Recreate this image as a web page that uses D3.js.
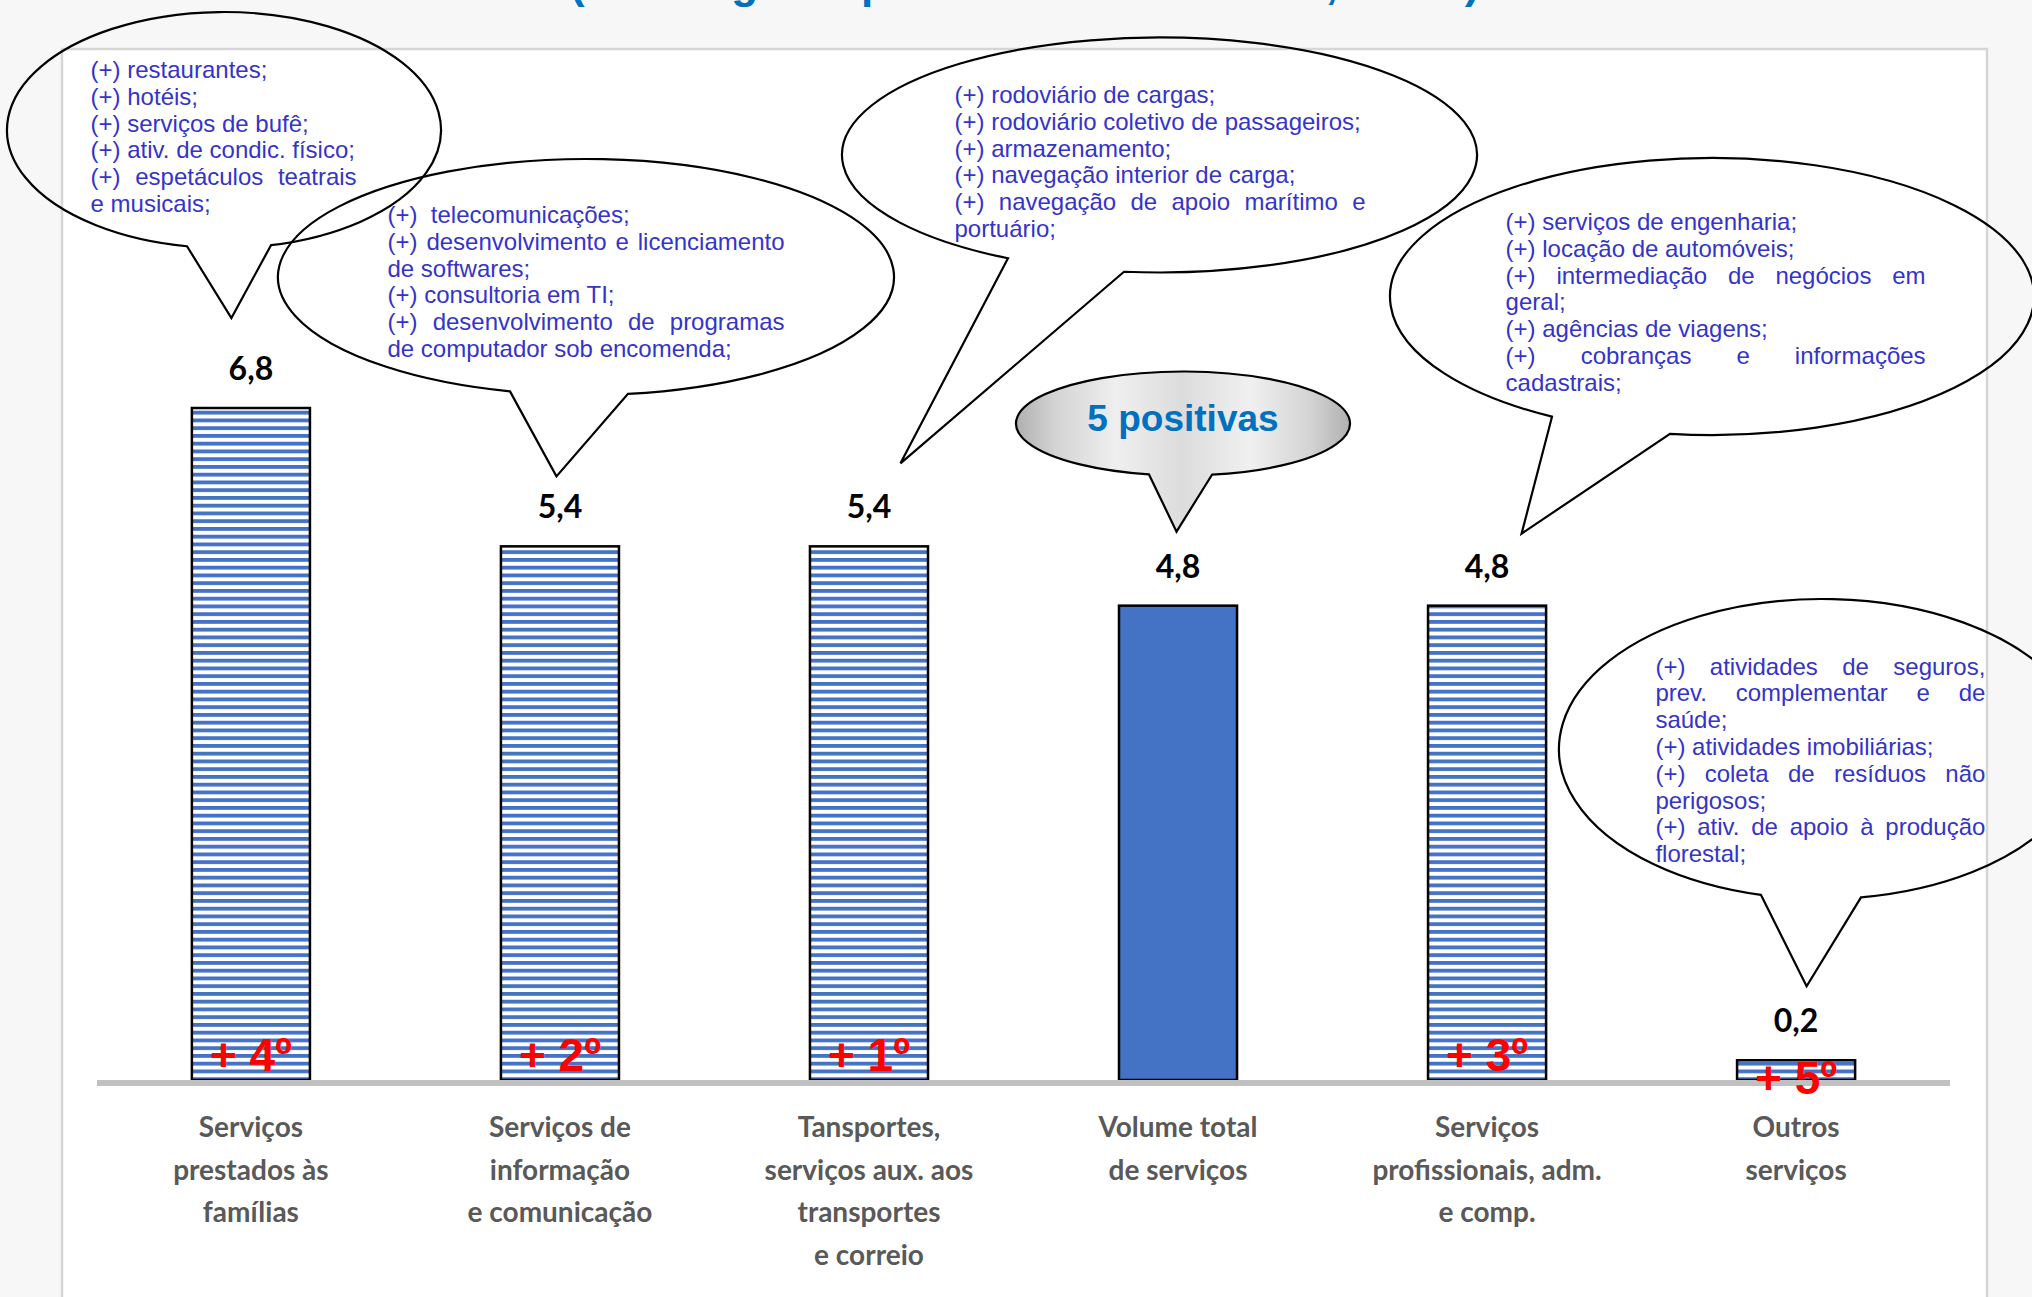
<!DOCTYPE html>
<html>
<head>
<meta charset="utf-8">
<script src="https://cdn.jsdelivr.net/npm/d3@7"></script>
<style>
  html, body { margin: 0; padding: 0; background: #f7f7f7; }
  svg { display: block; }
  .note { font-family: "Liberation Sans", Arial, sans-serif; font-size: 24px; fill: #3434c8; white-space: pre; }
  .cat { font-family: Lato, "Open Sans", sans-serif; font-weight: 700; font-size: 28px; fill: #595959; }
  .val { font-family: Lato, "Open Sans", sans-serif; font-weight: 700; font-size: 32px; fill: #000; }
  .rank { font-family: "Liberation Sans", Arial, sans-serif; font-weight: 700; font-size: 46px; fill: #ff0000; }
</style>
</head>
<body>
<svg id="chart" width="2032" height="1297"></svg>
<script>
// data
var categories = ["familias", "informacao", "transportes", "total", "profissionais", "outros"];
var categoryLines = [
  ["Serviços", "prestados às", "famílias"],
  ["Serviços de", "informação", "e comunicação"],
  ["Tansportes,", "serviços aux. aos", "transportes", "e correio"],
  ["Volume total", "de serviços"],
  ["Serviços", "profissionais, adm.", "e comp."],
  ["Outros", "serviços"]
];
var values = [6.8, 5.4, 5.4, 4.8, 4.8, 0.2];
var ranks = ["+ 4º", "+ 2º", "+ 1º", "", "+ 3º", "+ 5º"];
var isTotal = [false, false, false, true, false, false];

var titleText = "(Ranking dos pontos de alta no mês, em %)";
var totalNote = "5 positivas";

// callout texts: paragraphs -> lines (all but the last line of a paragraph are justified)
var notesFamilias = [
  ["(+) restaurantes;"],
  ["(+) hotéis;"],
  ["(+) serviços de bufê;"],
  ["(+) ativ. de condic. físico;"],
  ["(+)  espetáculos  teatrais", "e musicais;"]
];
var notesInformacao = [
  ["(+)  telecomunicações;"],
  ["(+)  desenvolvimento e licenciamento", "de softwares;"],
  ["(+) consultoria em TI;"],
  ["(+)  desenvolvimento  de  programas", "de computador sob encomenda;"]
];
var notesTransportes = [
  ["(+) rodoviário de cargas;"],
  ["(+) rodoviário coletivo de passageiros;"],
  ["(+) armazenamento;"],
  ["(+) navegação interior de carga;"],
  ["(+)  navegação  de  apoio  marítimo  e", "portuário;"]
];
var notesProfissionais = [
  ["(+) serviços de engenharia;"],
  ["(+) locação de automóveis;"],
  ["(+) intermediação de negócios em", "geral;"],
  ["(+) agências de viagens;"],
  ["(+) cobranças e informações", "cadastrais;"]
];
var notesOutros = [
  ["(+) atividades de seguros,", "prev. complementar e de", "saúde;"],
  ["(+) atividades imobiliárias;"],
  ["(+) coleta de resíduos não", "perigosos;"],
  ["(+) ativ. de apoio à produção", "florestal;"]
];

// callout shapes (layout only); the tail tip hangs off the bar it describes
var callouts = [
  {i: 0, cx: 224,    cy: 130,   rx: 217,   ry: 118,   bl: 187,  br: 271,  dx: -19.5, gap: 90, tx: 90.6,   tw: 266, ty: 78,    notes: notesFamilias},
  {i: 1, cx: 586,    cy: 277,   rx: 308,   ry: 118,   bl: 510,  br: 628,  dx: -3.5,  gap: 70, tx: 387.5,  tw: 397, ty: 223,   notes: notesInformacao},
  {i: 2, cx: 1159.5, cy: 155,   rx: 317.5, ry: 117.5, bl: 1008, br: 1124, dx: 31.5,  gap: 83, tx: 954.5,  tw: 411, ty: 103,   notes: notesTransportes},
  {i: 3, cx: 1183,   cy: 423.5, rx: 167,   ry: 52,    bl: 1149, br: 1212, dx: -1.5,  gap: 74, silver: true},
  {i: 4, cx: 1712,   cy: 296.5, rx: 322,   ry: 138.5, bl: 1552, br: 1670, dx: 34.5,  gap: 72, tx: 1505.6, tw: 420, ty: 230,   notes: notesProfissionais},
  {i: 5, cx: 1822,   cy: 749,   rx: 263,   ry: 150,   bl: 1761, br: 1861, dx: 10.5,  gap: 74, tx: 1655.4, tw: 330, ty: 674.6, notes: notesOutros}
];

var W = 2032, H = 1297;
var svg = d3.select("#chart");
var defs = svg.append("defs");

var pat = defs.append("pattern")
    .attr("id", "stripes")
    .attr("patternUnits", "userSpaceOnUse")
    .attr("width", 12)
    .attr("height", 7.75);
pat.append("rect").attr("width", 12).attr("height", 7.75).attr("fill", "#fff");
pat.append("rect").attr("width", 12).attr("height", 3.8).attr("fill", "#4472c4");

var grad = defs.append("linearGradient")
    .attr("id", "silver")
    .attr("x1", 0).attr("x2", 1).attr("y1", 0).attr("y2", 0);
[[0, "#b0b0b0"], [0.12, "#d4d4d4"], [0.3, "#efefef"], [0.5, "#dcdcdc"],
 [0.7, "#f0f0f0"], [0.88, "#d4d4d4"], [1, "#b0b0b0"]].forEach(function(s) {
  grad.append("stop").attr("offset", s[0]).attr("stop-color", s[1]);
});

svg.append("rect").attr("width", W).attr("height", H).attr("fill", "#f7f7f7");

svg.append("text")
    .attr("x", 570)
    .attr("y", -2)
    .attr("font-family", "'Liberation Sans', Arial, sans-serif")
    .attr("font-weight", 700)
    .attr("font-size", 44)
    .attr("fill", "#0070c0")
    .text(titleText);

// white panel
svg.append("rect")
    .attr("x", 62).attr("y", 49)
    .attr("width", 1925).attr("height", 1300)
    .attr("fill", "#fff")
    .attr("stroke", "#d6d6d6")
    .attr("stroke-width", 2.5);

var x = d3.scaleBand()
    .domain(categories)
    .range([97, 1950])
    .paddingInner(0.618)
    .paddingOuter(0.307);

var y = d3.scaleLinear()
    .domain([0, d3.max(values)])
    .range([1080, 408]);

var fmt = d3.formatLocale({decimal: ",", thousands: ".", grouping: [3], currency: ["R$", ""]}).format(".1f");

var rows = categories.map(function(c, i) {
  return {c: c, v: values[i], rank: ranks[i], total: isTotal[i], lines: categoryLines[i]};
});

// bars
svg.append("g").selectAll("rect")
  .data(rows)
  .enter().append("rect")
    .attr("x", function(d) { return x(d.c); })
    .attr("y", function(d) { return y(d.v); })
    .attr("width", x.bandwidth())
    .attr("height", function(d) { return y(0) - y(d.v); })
    .attr("fill", function(d) { return d.total ? "#4472c4" : "url(#stripes)"; })
    .attr("stroke", "#000")
    .attr("stroke-width", 2.5);

// baseline
svg.append("line")
    .attr("x1", x.range()[0])
    .attr("x2", x.range()[1])
    .attr("y1", y(0) + 3)
    .attr("y2", y(0) + 3)
    .attr("stroke", "#c0c0c0")
    .attr("stroke-width", 6);

// rank labels
svg.append("g").selectAll("text")
  .data(rows.filter(function(d) { return d.rank; }))
  .enter().append("text")
    .attr("class", "rank")
    .attr("x", function(d) { return x(d.c) + x.bandwidth() / 2; })
    .attr("y", function(d) { return Math.max(y(0) - 9, y(d.v) + 34); })
    .attr("text-anchor", "middle")
    .text(function(d) { return d.rank; });

// value labels
svg.append("g").selectAll("text")
  .data(rows)
  .enter().append("text")
    .attr("class", "val")
    .attr("x", function(d) { return x(d.c) + x.bandwidth() / 2; })
    .attr("y", function(d) { return y(d.v) - 28; })
    .attr("text-anchor", "middle")
    .text(function(d) { return fmt(d.v); });

// category labels
var cat = svg.append("g").selectAll("text")
  .data(rows)
  .enter().append("text")
    .attr("class", "cat")
    .attr("text-anchor", "middle");
cat.selectAll("tspan")
  .data(function(d) { return d.lines.map(function(l) { return {l: l, c: d.c}; }); })
  .enter().append("tspan")
    .attr("x", function(d) { return x(d.c) + x.bandwidth() / 2; })
    .attr("y", function(d, k) { return y(0) + 57 + k * 42.5; })
    .text(function(d) { return d.l; });

// callouts
function edgeY(o, bx) {
  var t = (bx - o.cx) / o.rx;
  return o.cy + o.ry * Math.sqrt(Math.max(0, 1 - t * t));
}

var measure = svg.append("text").attr("class", "note").attr("x", -999).attr("y", -999);
function wordWidth(w) {
  measure.text(w);
  return measure.node().getComputedTextLength();
}

var lh = 26.8;
callouts.forEach(function(o) {
  var d = rows[o.i];
  var tipX = x(d.c) + x.bandwidth() / 2 + o.dx,
      tipY = y(d.v) - o.gap;
  var lY = edgeY(o, o.bl), rY = edgeY(o, o.br);
  var path = "M" + o.bl + "," + lY +
      "L" + tipX + "," + tipY +
      "L" + o.br + "," + rY +
      "A" + o.rx + "," + o.ry + " 0 1 0 " + o.bl + "," + lY + "Z";
  svg.append("path")
      .attr("d", path)
      .attr("fill", o.silver ? "url(#silver)" : "none")
      .attr("stroke", "#000")
      .attr("stroke-width", 2.2)
      .attr("stroke-linejoin", "miter");

  if (o.silver) {
    svg.append("text")
        .attr("x", o.cx)
        .attr("y", o.cy + 7)
        .attr("text-anchor", "middle")
        .attr("font-family", "'Liberation Sans', Arial, sans-serif")
        .attr("font-weight", 700)
        .attr("font-size", 37)
        .attr("fill", "#0070c0")
        .text(totalNote);
    return;
  }

  var g = svg.append("g");
  var k = 0;
  o.notes.forEach(function(par) {
    par.forEach(function(line, j) {
      var ly = o.ty + k * lh;
      var justify = j < par.length - 1;
      if (justify) {
        var words = line.trim().split(/\s+/);
        var widths = words.map(wordWidth);
        var gapW = (o.tw - d3.sum(widths)) / (words.length - 1);
        var cx = o.tx;
        words.forEach(function(w, m) {
          g.append("text").attr("class", "note").attr("x", cx).attr("y", ly).text(w);
          cx += widths[m] + gapW;
        });
      } else {
        g.append("text").attr("class", "note").attr("x", o.tx).attr("y", ly).text(line);
      }
      k++;
    });
  });
});
measure.remove();
</script>
</body>
</html>
